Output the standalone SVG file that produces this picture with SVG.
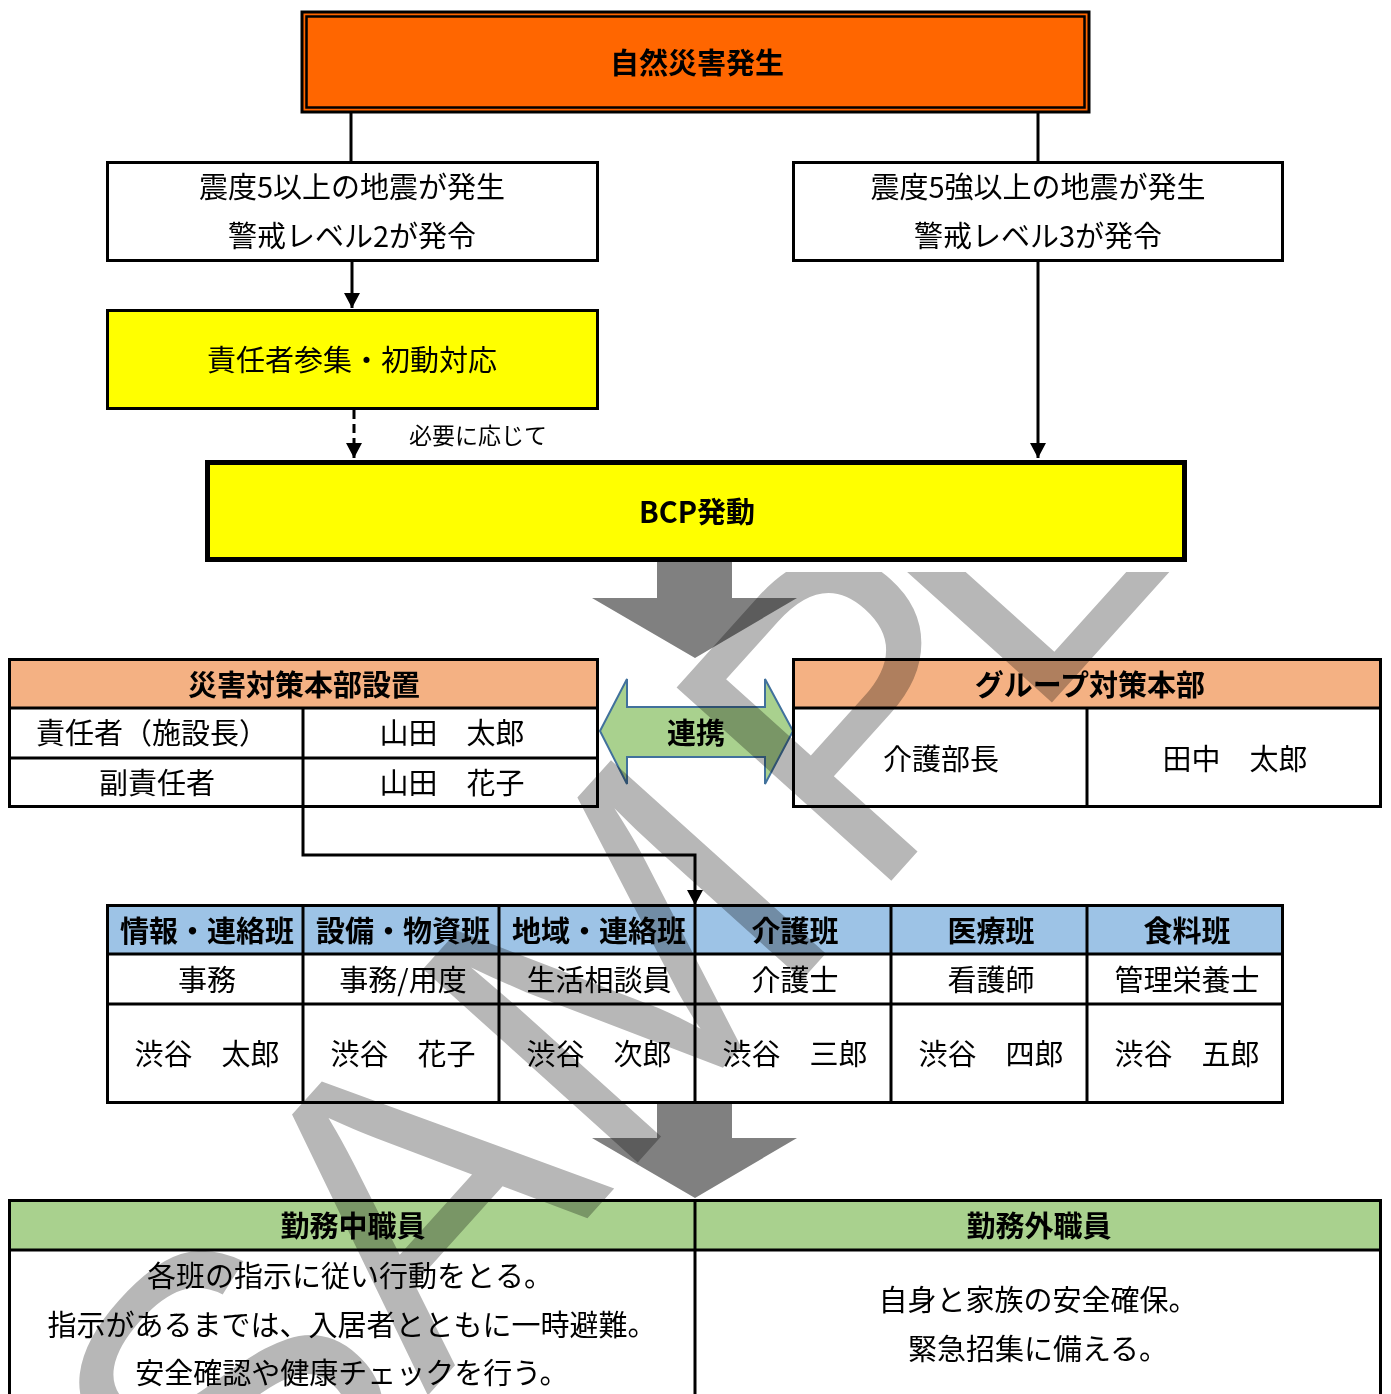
<svg xmlns="http://www.w3.org/2000/svg" width="1391" height="1394" viewBox="0 0 1391 1394">
<style>
  .t { font-family: "Noto Sans CJK JP", "Noto Sans", sans-serif; fill: #000; text-anchor: middle; dominant-baseline: central; }
  .r { font-size: 29px; font-weight: 400; }
  .b { font-size: 29px; font-weight: 700; }
  .box { stroke: #000; stroke-width: 3; }
  .ln { stroke: #000; stroke-width: 3; fill: none; }
  .wm { font-family: "Liberation Sans", Arial, sans-serif; font-size: 420px; fill: #b7b7b7; }
</style>
<defs>
  <marker id="ah" markerUnits="userSpaceOnUse" markerWidth="16" markerHeight="16" refX="15" refY="8" orient="auto">
    <path d="M0,0 L15,8 L0,16 z" fill="#000"/>
  </marker>
  <clipPath id="wmclip" clipPathUnits="userSpaceOnUse">
    <rect x="0" y="572" width="1391" height="822"/>
  </clipPath>
</defs>
<rect x="0" y="0" width="1391" height="1394" fill="#fff"/>

<g id="connectors">
  <line class="ln" x1="351" y1="113" x2="351" y2="162"/>
  <line class="ln" x1="1038" y1="113" x2="1038" y2="162"/>
  <line class="ln" x1="352" y1="261" x2="352" y2="308" marker-end="url(#ah)"/>
  <line class="ln" x1="354" y1="410" x2="354" y2="458" stroke-dasharray="9,5" marker-end="url(#ah)"/>
  <line class="ln" x1="1038" y1="261" x2="1038" y2="458" marker-end="url(#ah)"/>
  <polyline class="ln" points="303,807 303,855 695,855 695,905" marker-end="url(#ah)"/>
  <polygon id="bigarrow1" points="657,562 732,562 732,598 797,598 695,658 592,598 657,598" fill="#808080"/>
  <polygon id="bigarrow2" points="657,1103 732,1103 732,1138 797,1138 695,1198 592,1138 657,1138" fill="#808080"/>
</g>

<g id="n-disaster">
  <rect x="302" y="12" width="787" height="100" fill="#ff6600" stroke="#000" stroke-width="3"/>
  <rect x="306.5" y="16.5" width="778" height="91" fill="none" stroke="#000" stroke-width="2.5"/>
  <text class="t b" x="697" y="61">自然災害発生</text>
</g>

<g id="n-level2">
  <rect class="box" x="107.5" y="162.5" width="490" height="98" fill="#fff"/>
  <text class="t r" x="352" y="185">震度5以上の地震が発生</text>
  <text class="t r" x="352" y="234">警戒レベル2が発令</text>
</g>

<g id="n-level3">
  <rect class="box" x="793.5" y="162.5" width="489" height="98" fill="#fff"/>
  <text class="t r" x="1038" y="185">震度5強以上の地震が発生</text>
  <text class="t r" x="1038" y="234">警戒レベル3が発令</text>
</g>

<g id="n-initial">
  <rect class="box" x="107.5" y="310.5" width="490" height="98" fill="#ffff00"/>
  <text class="t r" x="352" y="358">責任者参集・初動対応</text>
</g>

<g id="l-needed">
  <text class="t" x="478" y="434" style="font-size:23px">必要に応じて</text>
</g>

<g id="n-bcp">
  <rect x="207.5" y="462.5" width="977" height="97" fill="#ffff00" stroke="#000" stroke-width="5"/>
  <text class="t b" x="697" y="510">BCP発動</text>
</g>

<g id="n-hq">
  <rect x="9" y="659" width="589" height="49" fill="#f4b183"/>
  <rect x="9" y="708" width="589" height="99" fill="#fff"/>
  <rect class="box" x="9.5" y="659.5" width="588" height="147" fill="none"/>
  <line class="ln" x1="9" y1="708" x2="598" y2="708"/>
  <line class="ln" x1="9" y1="758" x2="598" y2="758"/>
  <line class="ln" x1="303" y1="708" x2="303" y2="807"/>
  <text class="t b" x="304" y="683">災害対策本部設置</text>
  <text class="t r" x="152" y="731">責任者（施設長）</text>
  <text class="t r" x="452" y="731">山田　太郎</text>
  <text class="t r" x="157" y="781">副責任者</text>
  <text class="t r" x="452" y="781">山田　花子</text>
</g>

<g id="n-link">
  <polygon points="600,731 627,679 627,707 765,707 765,679 793,731 765,784 765,757 627,757 627,784" fill="#a9d18e" stroke="#41719c" stroke-width="2"/>
  <text class="t b" x="696" y="731">連携</text>
</g>

<g id="n-group">
  <rect x="793" y="659" width="588" height="49" fill="#f4b183"/>
  <rect x="793" y="708" width="588" height="99" fill="#fff"/>
  <rect class="box" x="793.5" y="659.5" width="587" height="147" fill="none"/>
  <line class="ln" x1="793" y1="708" x2="1381" y2="708"/>
  <line class="ln" x1="1087" y1="708" x2="1087" y2="807"/>
  <text class="t b" x="1090" y="683">グループ対策本部</text>
  <text class="t r" x="941" y="757">介護部長</text>
  <text class="t r" x="1235" y="757">田中　太郎</text>
</g>

<g id="n-teams">
  <rect x="107" y="905" width="1176" height="49" fill="#9dc3e6"/>
  <rect x="107" y="954" width="1176" height="149" fill="#fff"/>
  <rect class="box" x="107.5" y="905.5" width="1175" height="197" fill="none"/>
  <line class="ln" x1="107" y1="954" x2="1283" y2="954"/>
  <line class="ln" x1="107" y1="1004" x2="1283" y2="1004"/>
  <line class="ln" x1="303" y1="905" x2="303" y2="1103"/>
  <line class="ln" x1="499" y1="905" x2="499" y2="1103"/>
  <line class="ln" x1="695" y1="905" x2="695" y2="1103"/>
  <line class="ln" x1="891" y1="905" x2="891" y2="1103"/>
  <line class="ln" x1="1087" y1="905" x2="1087" y2="1103"/>
  <text class="t b" x="207" y="929">情報・連絡班</text>
  <text class="t b" x="403" y="929">設備・物資班</text>
  <text class="t b" x="599" y="929">地域・連絡班</text>
  <text class="t b" x="795" y="929">介護班</text>
  <text class="t b" x="991" y="929">医療班</text>
  <text class="t b" x="1187" y="929">食料班</text>
  <text class="t r" x="207" y="978">事務</text>
  <text class="t r" x="403" y="978">事務/用度</text>
  <text class="t r" x="599" y="978">生活相談員</text>
  <text class="t r" x="795" y="978">介護士</text>
  <text class="t r" x="991" y="978">看護師</text>
  <text class="t r" x="1187" y="978">管理栄養士</text>
  <text class="t r" x="207" y="1052">渋谷　太郎</text>
  <text class="t r" x="403" y="1052">渋谷　花子</text>
  <text class="t r" x="599" y="1052">渋谷　次郎</text>
  <text class="t r" x="795" y="1052">渋谷　三郎</text>
  <text class="t r" x="991" y="1052">渋谷　四郎</text>
  <text class="t r" x="1187" y="1052">渋谷　五郎</text>
</g>

<g id="n-staff">
  <rect x="9" y="1200" width="1372" height="50" fill="#a9d18e"/>
  <rect x="9" y="1250" width="1372" height="150" fill="#fff"/>
  <rect class="box" x="9.5" y="1200.5" width="1371" height="220" fill="none"/>
  <line class="ln" x1="9" y1="1250" x2="1381" y2="1250"/>
  <line class="ln" x1="695" y1="1200" x2="695" y2="1394"/>
  <text class="t b" x="353" y="1224">勤務中職員</text>
  <text class="t b" x="1039" y="1224">勤務外職員</text>
  <text class="t r" x="350" y="1274">各班の指示に従い行動をとる。</text>
  <text class="t r" x="352" y="1323">指示があるまでは、入居者とともに一時避難。</text>
  <text class="t r" x="352" y="1371">安全確認や健康チェックを行う。</text>
  <text class="t r" x="1038" y="1298">自身と家族の安全確保。</text>
  <text class="t r" x="1038" y="1347">緊急招集に備える。</text>
</g>

<g id="watermark" clip-path="url(#wmclip)" style="mix-blend-mode:multiply">
  <text class="wm" transform="translate(250,1593) rotate(-48)" x="-12 265 545 924 1164 1397" y="0">SAMPLE</text>
</g>
</svg>
